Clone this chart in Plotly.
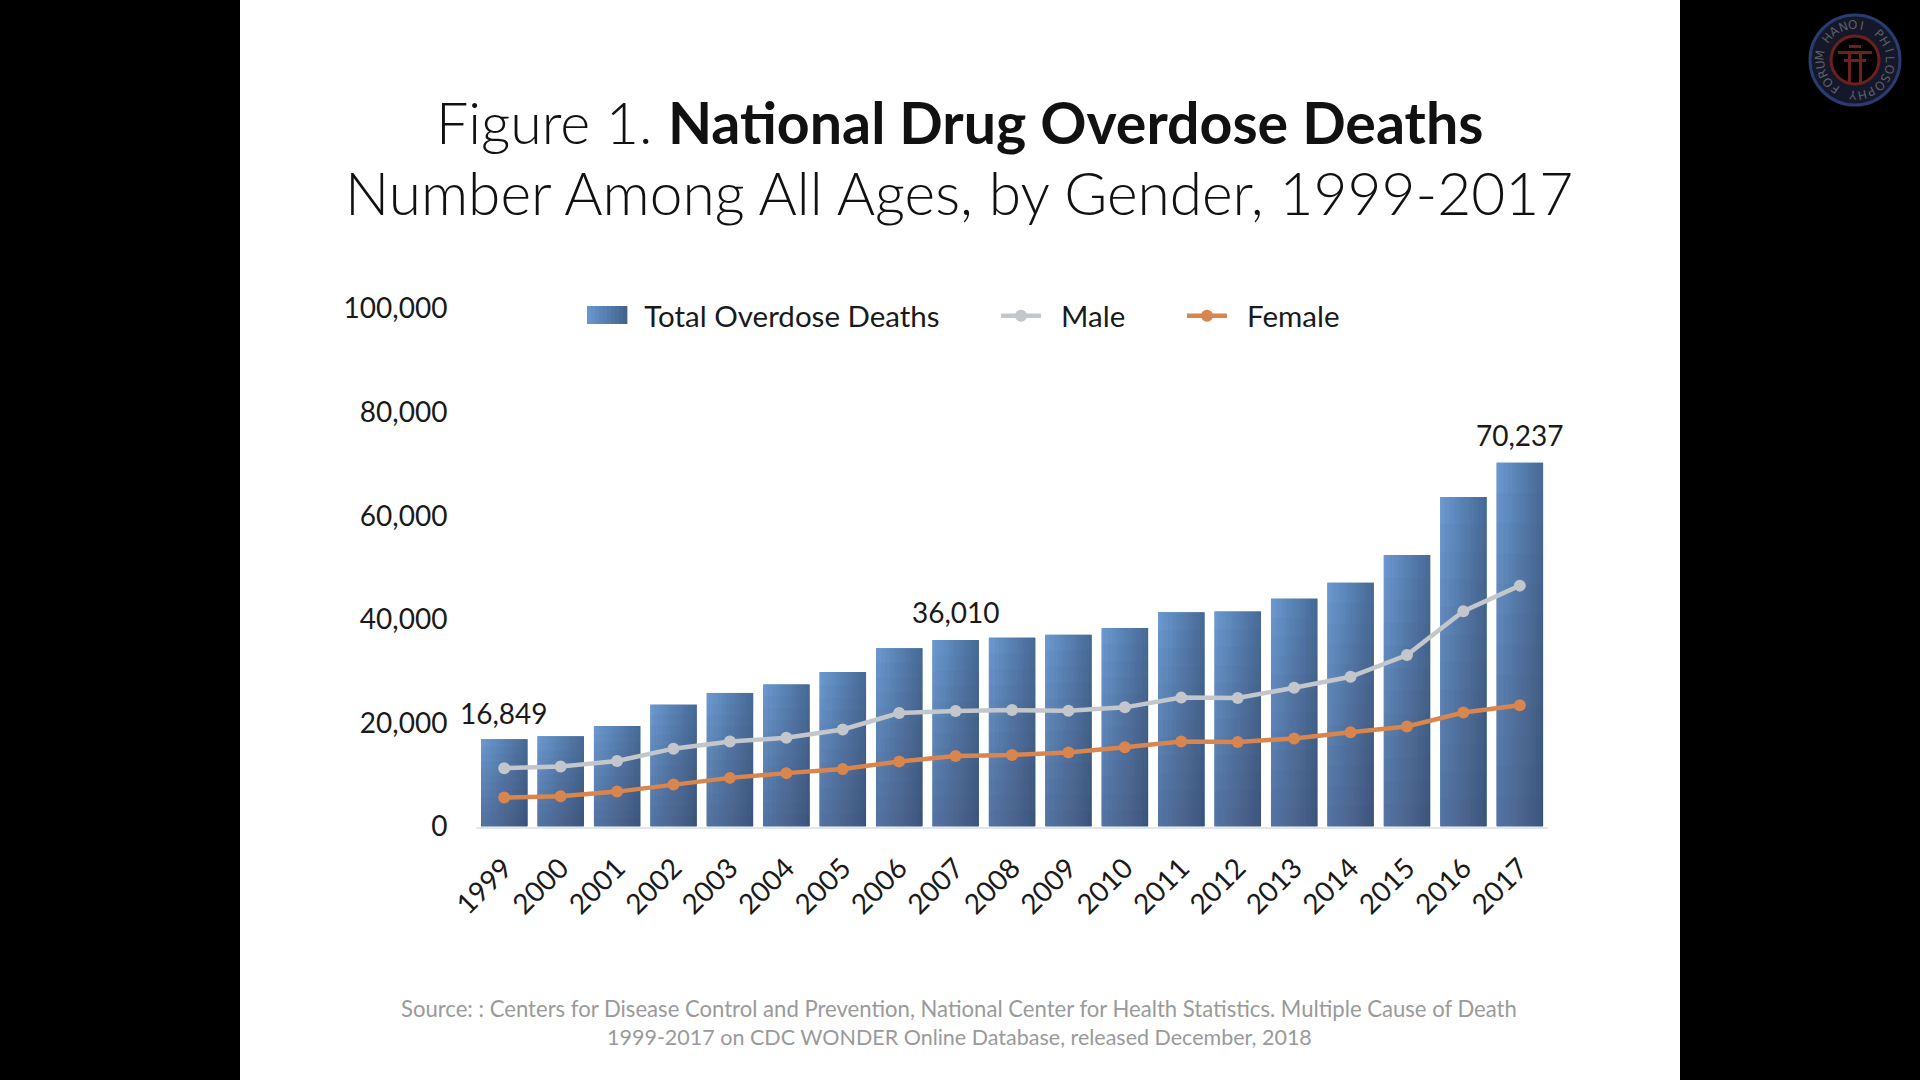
import math
import plotly.graph_objects as go

years = [str(y) for y in range(1999, 2018)]
total = [16849, 17415, 19394, 23518, 25785, 27424, 29813, 34425, 36010, 36450,
         37004, 38329, 41340, 41502, 43982, 47055, 52404, 63632, 70237]
male = [11258, 11563, 12658, 15028, 16399, 17120, 18724, 21893, 22300, 22470,
        22350, 23000, 24880, 24800, 26800, 28900, 33100, 41560, 46500]
female = [5591, 5852, 6736, 8100, 9386, 10304, 11089, 12532, 13596, 13800,
          14300, 15300, 16400, 16300, 17000, 18200, 19300, 22000, 23400]
labelled_years = ["1999", "2007", "2017"]
y_ticks = [0, 20000, 40000, 60000, 80000, 100000]

W, H = 1920, 1080
BAR_W = 0.82
N_STRIPS = 18
N_LAYERS = 12
FONT = "Lato"
LIGHT = "Lato Light"
KEY_GAP = "\u00a0\u00a0"


def mix(a, b, t):
    return "rgb(%d,%d,%d)" % tuple(round(a[i] + (b[i] - a[i]) * t) for i in range(3))


fig = go.Figure()
fig.add_bar(x=years, y=total, name="Total Overdose Deaths", width=BAR_W, showlegend=False,
            marker=dict(color="#5a87bd", line_width=0))

# horizontal part of the gradient
for i in range(N_STRIPS):
    sw = BAR_W / N_STRIPS
    fig.add_bar(x=years, y=total, width=sw + 0.004, offset=-BAR_W / 2 + i * sw,
                marker=dict(color=mix((108, 156, 212), (72, 108, 152), i / (N_STRIPS - 1)), line_width=0),
                showlegend=False, hoverinfo="skip")
# vertical part of the gradient: translucent layers accumulating toward the base
for j in range(1, N_LAYERS + 1):
    fig.add_bar(x=years, y=[v * j / N_LAYERS for v in total], width=BAR_W,
                marker=dict(color="rgba(50,60,82,0.035)", line_width=0),
                showlegend=False, hoverinfo="skip")

# legend entry for the bars; its key is the gradient swatch drawn as shapes below
fig.add_scatter(x=[None], y=[None], name=KEY_GAP + "Total Overdose Deaths", mode="lines",
                line=dict(color="rgba(0,0,0,0)", width=10), legend="legend", hoverinfo="skip")
fig.add_scatter(x=years, y=male, name=KEY_GAP + "Male", mode="lines+markers", legend="legend2",
                line=dict(color="#c3c7cc", width=4.5), marker=dict(color="#c3c7cc", size=12))
fig.add_scatter(x=years, y=female, name=KEY_GAP + "Female", mode="lines+markers", legend="legend3",
                line=dict(color="#d8854e", width=4.5), marker=dict(color="#d8854e", size=12))

annotations = []
for yr in labelled_years:
    idx = years.index(yr)
    v = total[idx]
    annotations.append(dict(x=idx, y=v, xref="x", yref="y", text=f"{v:,}", showarrow=False,
                            yanchor="bottom", yshift=7 if yr == "1999" else 9,
                            font=dict(family=FONT, size=28, color="#1a1a1a")))


def page_text(text, x, y, size, color, family=FONT, **kw):
    annotations.append(dict(x=x / W, y=1 - y / H, xref="paper", yref="paper", text=text,
                            showarrow=False, xanchor="center", yanchor="middle",
                            font=dict(family=family, size=size, color=color), **kw))


page_text(f"Figure 1. <b style='font-family:{FONT}'>National Drug Overdose Deaths</b>", 959, 122, 57.3, "#111111", family=LIGHT)
page_text("Number Among All Ages, by Gender, 1999-2017", 959, 192, 58.6, "#111111", family=LIGHT)
page_text("Source: : Centers for Disease Control and Prevention, National Center for Health Statistics. Multiple Cause of Death",
          959, 1008, 22.1, "#9a9a9a")
page_text("1999-2017 on CDC WONDER Online Database, released December, 2018", 959, 1037, 21.5, "#9a9a9a")

# corner emblem
CX, CY = 1855, 60
ring = "FORUM HANOI PHILOSOPHY "
for k, ch in enumerate(ring):
    a = -145 + k * 360 / len(ring)
    rad = math.radians(a)
    page_text(ch, CX + 35 * math.sin(rad), CY - 35 * math.cos(rad), 12, "#5f5f66",
              family="DejaVu Sans", textangle=a)


def circle(r, line, width):
    return dict(type="circle", xref="paper", yref="paper", layer="below",
                x0=(CX - r) / W, x1=(CX + r) / W, y0=1 - (CY + r) / H, y1=1 - (CY - r) / H,
                line=dict(color=line, width=width), fillcolor="rgba(0,0,0,0)")


def block(dx0, dy0, dx1, dy1, color="#6e201d"):
    return dict(type="rect", xref="paper", yref="paper", layer="below",
                x0=(CX + dx0) / W, x1=(CX + dx1) / W, y0=1 - (CY + dy1) / H, y1=1 - (CY + dy0) / H,
                fillcolor=color, line_width=0)


shapes = [
    dict(type="rect", xref="paper", yref="paper", layer="below", x0=240 / W, x1=1680 / W, y0=0, y1=1,
         fillcolor="white", line_width=0),
    circle(35, "#14182a", 20),
    circle(45, "#2a3b70", 3),
    circle(24, "#6e201d", 3),
    block(-6, -15, 6, -12), block(-17, -9, 17, -6), block(-11, -1, 11, 2),
    block(-7, -9, -4, 23), block(4, -9, 7, 23),
]

# gradient swatch of the bar legend key
SW_X0, SW_X1, SW_Y0, SW_Y1 = 587, 627, 306, 324
for i in range(10):
    shapes.append(dict(type="rect", xref="paper", yref="paper", layer="below",
                       x0=(SW_X0 + (SW_X1 - SW_X0) * i / 10) / W,
                       x1=(SW_X0 + (SW_X1 - SW_X0) * (i + 1.1) / 10) / W,
                       y0=1 - SW_Y1 / H, y1=1 - SW_Y0 / H,
                       fillcolor=mix((104, 150, 204), (68, 100, 142), i / 9), line_width=0))

fig.update_layout(
    width=W, height=H, autosize=False, margin=dict(l=0, r=0, t=0, b=0, autoexpand=False),
    paper_bgcolor="black", plot_bgcolor="rgba(0,0,0,0)", barmode="overlay",
    font=dict(family=FONT, size=26, color="#1a1a1a"),
    shapes=shapes, annotations=annotations,
    xaxis=dict(domain=[476 / W, 1548 / W], range=[-0.5, 18.5], type="category", tickangle=-45,
               showgrid=False, zeroline=False, showline=True, linecolor="#e4e6ea", linewidth=2,
               ticks="outside", ticklen=12, tickcolor="rgba(0,0,0,0)",
               tickfont=dict(family=FONT, size=28, color="#1a1a1a")),
    yaxis=dict(domain=[1 - 826.5 / H, 1 - 308.5 / H], range=[0, 100000], tickvals=y_ticks,
               tickformat=",d", showgrid=False, zeroline=False, showline=False,
               ticks="outside", ticklen=22, tickcolor="rgba(0,0,0,0)",
               tickfont=dict(family=FONT, size=28, color="#1a1a1a")),
    showlegend=True,
)
legend_style = dict(orientation="h", xanchor="left", y=1 - 316 / H, yanchor="middle", itemwidth=40,
                    bgcolor="rgba(0,0,0,0)", font=dict(family=FONT, size=29.5, color="#1a1a1a"))
fig.update_layout(legend=dict(x=580 / W, **legend_style),
                  legend2=dict(x=996 / W, **legend_style),
                  legend3=dict(x=1182 / W, **legend_style))

fig.write_html("out.html", default_width=W, default_height=H, config={"displayModeBar": False},
               post_script="document.body.style.margin='0';document.body.style.background='black';")
